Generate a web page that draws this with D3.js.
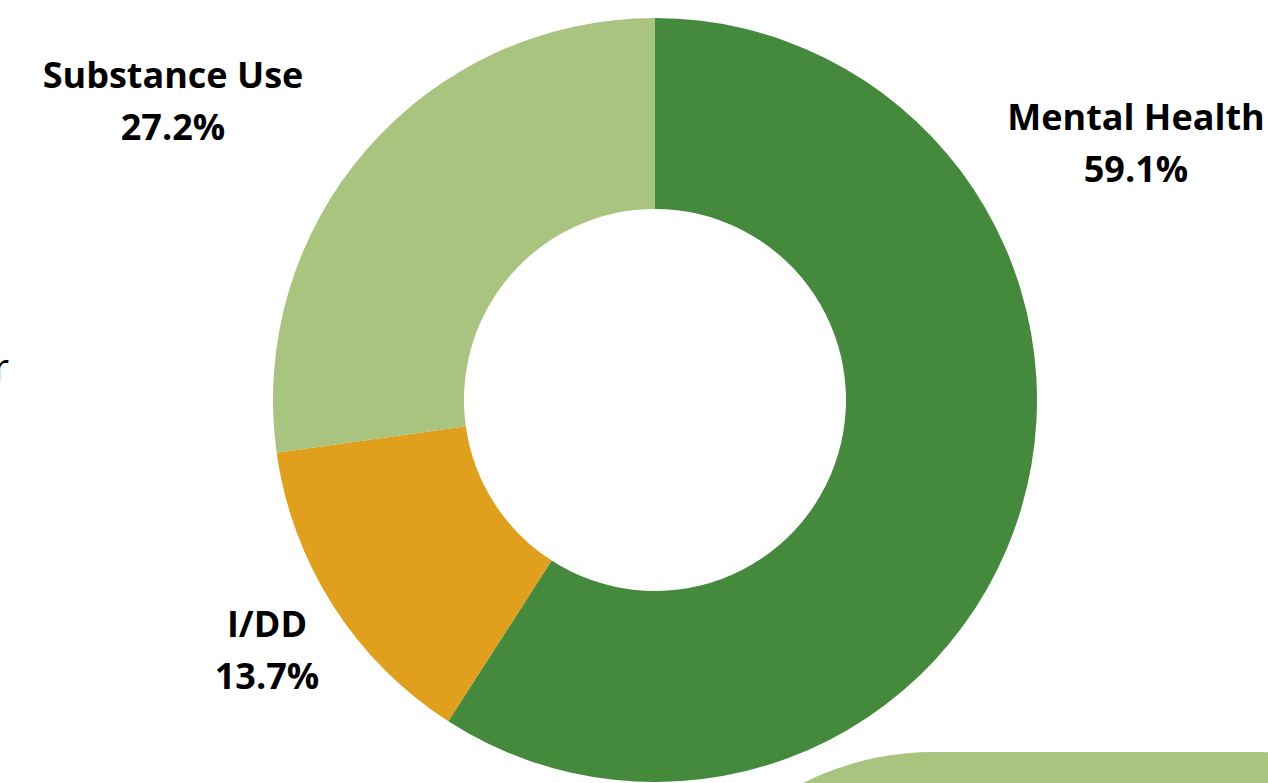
<html><head>
    <title>Service Type Share</title>
    <script src="https://d3js.org/d3.v7.min.js"></script>
    <style>
        body { margin: 0; background: #fff; overflow: hidden; }
        text { font-family: "Open Sans", sans-serif; }
    </style>
</head>
<body>
<div id="p1"></div>

<script>
    const categories = ["Mental Health", "I/DD", "Substance Use"];
    const shares = [59.1, 13.7, 27.2];
    const colors = ["#45893d", "#e0a01e", "#a9c47f"];

    const svgWidth = 1268;
    const svgHeight = 783;
    const cx = 655, cy = 400;
    const outerR = 382, innerR = 191;
    const fontSize = 36;

    // where each label block sits (center x, first baseline)
    const labelSpots = {
        "Mental Health": [1136, 130],
        "I/DD": [267, 637],
        "Substance Use": [173, 88]
    };

    const svg = d3.select("#p1")
        .append("svg")
        .attr("width", svgWidth)
        .attr("height", svgHeight);

    // background decoration bottom right
    svg.append("rect")
        .attr("x", 645).attr("y", 752)
        .attr("width", 900).attr("height", 600)
        .attr("rx", 288).attr("ry", 288)
        .attr("fill", "#a9c47f");

    // cut-off text on the left edge
    svg.append("text")
        .attr("x", 9).attr("y", 381)
        .attr("text-anchor", "end")
        .style("font-size", "38px")
        .attr("fill", "#000")
        .text("r");

    const data = categories.map((c, i) => ({name: c, value: shares[i], color: colors[i]}));

    const pie = d3.pie().value(d => d.value).sort(null);
    const arc = d3.arc().innerRadius(innerR).outerRadius(outerR);

    const g = svg.append("g").attr("transform", "translate(" + cx + "," + cy + ")");
    g.selectAll("path")
        .data(pie(data))
        .enter().append("path")
        .attr("d", arc)
        .attr("fill", d => d.data.color);

    const labels = svg.append("g");
    data.forEach(d => {
        const [lx, ly] = labelSpots[d.name];
        const t = labels.append("text")
            .attr("text-anchor", "middle")
            .style("font-size", fontSize + "px")
            .style("font-weight", "700")
            .attr("fill", "#000");
        t.append("tspan").attr("x", lx).attr("y", ly).text(d.name);
        t.append("tspan").attr("x", lx).attr("y", ly + 52).text(d3.format(".1f")(d.value) + "%");
    });
</script>
</body>
</html>
